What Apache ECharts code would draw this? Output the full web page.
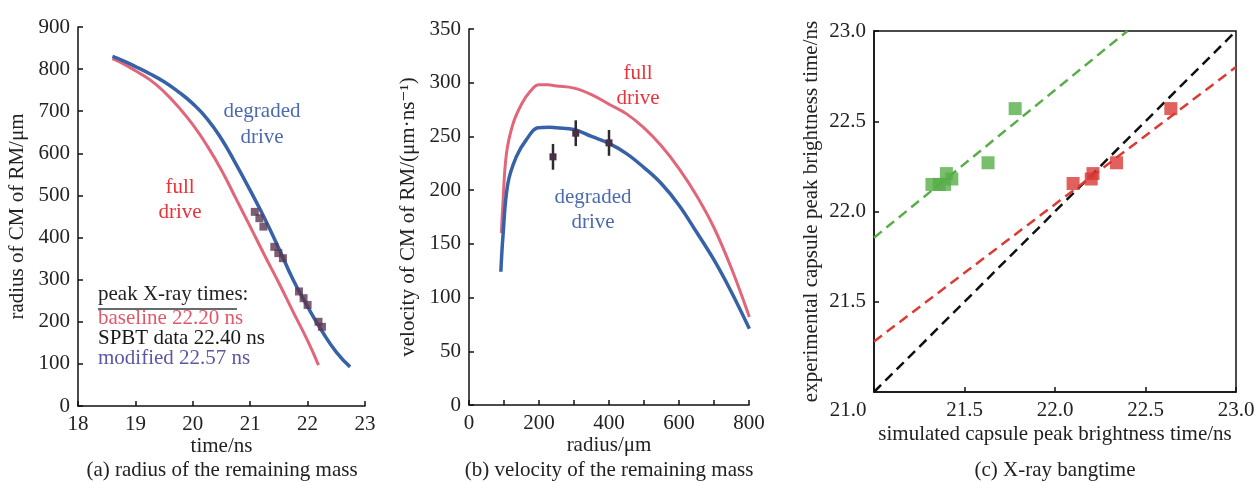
<!DOCTYPE html>
<html><head><meta charset="utf-8">
<script src="https://cdn.jsdelivr.net/npm/echarts@6/dist/echarts.min.js"></script>
<style>html,body{margin:0;padding:0;background:#fff}#c{width:1255px;height:482px}</style>
</head><body><div id="c"></div>
<script>
// ---- Panel (a): radius of remaining mass vs time ----
const aXTicks = [18, 19, 20, 21, 22, 23];
const aFullDrive = [[18.6,825],[18.8,812],[19.0,796],[19.25,775],[19.5,746],[19.75,710],[20.0,668],[20.25,618],[20.5,560],[20.75,493],[21.0,426],[21.25,358],[21.5,292],[21.75,223],[22.0,155],[22.19,97]];
const aDegradedDrive = [[18.6,830],[18.8,819],[19.0,806],[19.25,789],[19.5,770],[19.75,746],[20.0,718],[20.25,682],[20.5,634],[20.75,575],[21.0,512],[21.25,446],[21.5,374],[21.75,299],[22.0,236],[22.25,178],[22.5,128],[22.74,93]];
const aSPBT = [[21.08,461],[21.16,446],[21.23,426],[21.42,378],[21.49,363],[21.57,351],[21.85,272],[21.93,256],[22.0,240],[22.19,200],[22.25,188]];
const aLegend = ['peak X-ray times:', 'baseline 22.20 ns', 'SPBT data 22.40 ns', 'modified 22.57 ns'];

// ---- Panel (b): velocity vs radius ----
const bFullDrive = [[92.5,160],[97,188],[107,234],[126,262],[150,280],[175,292],[200,298],[225,298],[250,297],[300,295],[350,289],[400,280],[450,271],[500,258],[550,241],[600,220],[650,195],[700,165],[750,127],[801,82]];
const bDegradedDrive = [[91,124],[97,157],[111,206],[135,231],[164,247],[197,258],[230,258.6],[250,258],[300,256.5],[350,250],[400,243.5],[450,234],[500,221],[550,206],[600,186],[650,161],[700,135],[750,105],[801,71]];
const bMeasured = [[240,231,12],[305,253,12],[400,244,12]]; // [radius, velocity, error]

// ---- Panel (c): X-ray bangtime ----
const cGreen = [[21.32,22.15],[21.36,22.15],[21.39,22.15],[21.40,22.21],[21.43,22.18],[21.63,22.27],[21.78,22.57]];
const cRed = [[22.10,22.155],[22.20,22.18],[22.21,22.21],[22.34,22.27],[22.64,22.57]];
const cIdentity = [[21,21],[23,23]];
const cRedFit = [[21,21.28],[23,22.80]];
const cGreenFit = [[21,21.855],[22.4,23.0]];

const FONT = '"Liberation Serif","DejaVu Serif",serif';
const FS = 21;
const BLUE_LINE = '#3762a8', RED_LINE = '#e2667a';

function axisBase(extra) {
  return Object.assign({
    type: 'value',
    axisLine: { show: true, onZero: false, lineStyle: { color: '#111', width: 1.5 } },
    axisTick: { show: true, inside: true, length: 5, lineStyle: { color: '#111', width: 1.5 } },
    axisLabel: { color: '#222', fontSize: FS, fontFamily: FONT, margin: 8, showMinLabel: true, showMaxLabel: true },
    splitLine: { show: false },
    nameLocation: 'middle',
    nameTextStyle: { color: '#222', fontSize: FS, fontFamily: FONT },
    nameMoveOverlap: false
  }, extra);
}

const chart = echarts.init(document.getElementById('c'), null, { renderer: 'canvas' });
const txt = (s, x, y, color, extra) => ({ type: 'text', x: x, y: y, style: Object.assign({ text: s, fill: color, font: FS + 'px ' + FONT }, extra || {}) });

const option = {
  backgroundColor: '#fff',
  animation: false,
  grid: [
    { left: 78, top: 27, width: 287, height: 379, outerBoundsMode: 'none' },
    { left: 469, top: 29, width: 280, height: 376, outerBoundsMode: 'none' },
    { left: 874, top: 31, width: 362, height: 361, outerBoundsMode: 'none', show: true, borderColor: '#111', borderWidth: 1.5, backgroundColor: 'transparent' }
  ],
  xAxis: [
    axisBase({ gridIndex: 0, min: aXTicks[0], max: aXTicks[aXTicks.length - 1], interval: 1, name: 'time/ns', nameGap: 30 }),
    axisBase({ gridIndex: 1, min: 0, max: 800, interval: 100, name: 'radius/μm', nameGap: 30,
      axisLabel: { color: '#222', fontSize: FS, fontFamily: FONT, margin: 8, formatter: v => (v % 200 === 0 ? String(v) : '') } }),
    axisBase({ gridIndex: 2, min: 21, max: 23, interval: 0.5, name: 'simulated capsule peak brightness time/ns', nameGap: 32,
      axisLabel: { color: '#222', fontSize: FS, fontFamily: FONT, margin: 8,
        formatter: v => (v === 21 ? '{s|21.0}' : v.toFixed(1)),
        rich: { s: { fontSize: FS, fontFamily: FONT, color: '#222', padding: [0, 52, 0, 0] } } } })
  ],
  yAxis: [
    axisBase({ gridIndex: 0, min: 0, max: 900, interval: 100, name: 'radius of CM of RM/μm', nameGap: 50 }),
    axisBase({ gridIndex: 1, min: 0, max: 350, interval: 50, name: 'velocity of CM of RM/(μm·ns⁻¹)', nameGap: 50 }),
    axisBase({ gridIndex: 2, min: 21, max: 23, interval: 0.5, name: 'experimental capsule peak brightness time/ns', nameGap: 52,
      axisLabel: { color: '#222', fontSize: FS, fontFamily: FONT, margin: 8, showMinLabel: false, formatter: v => v.toFixed(1) } })
  ],
  series: [
    // (a)
    { type: 'line', xAxisIndex: 0, yAxisIndex: 0, data: aFullDrive, smooth: 0.5, symbol: 'none',
      lineStyle: { color: RED_LINE, width: 3 }, z: 2 },
    { type: 'line', xAxisIndex: 0, yAxisIndex: 0, data: aDegradedDrive, smooth: 0.5, symbol: 'none',
      lineStyle: { color: BLUE_LINE, width: 3.5 }, z: 2 },
    { type: 'scatter', xAxisIndex: 0, yAxisIndex: 0, data: aSPBT, symbol: 'rect', symbolSize: 8,
      itemStyle: { color: '#5b3752' }, z: 3 },
    // (b)
    { type: 'line', xAxisIndex: 1, yAxisIndex: 1, data: bFullDrive, smooth: 0.4, symbol: 'none',
      lineStyle: { color: RED_LINE, width: 3 }, z: 2 },
    { type: 'line', xAxisIndex: 1, yAxisIndex: 1, data: bDegradedDrive, smooth: 0.4, symbol: 'none',
      lineStyle: { color: BLUE_LINE, width: 3.5 }, z: 2 },
    { type: 'custom', xAxisIndex: 1, yAxisIndex: 1, data: bMeasured, encode: { x: 0, y: 1 }, z: 3,
      renderItem: (params, api) => {
        const x = api.value(0), y = api.value(1), e = api.value(2);
        const t = api.coord([x, y + e]), b = api.coord([x, y - e]), c = api.coord([x, y]);
        return { type: 'group', children: [
          { type: 'line', shape: { x1: t[0], y1: t[1], x2: b[0], y2: b[1] }, style: { stroke: '#2e2a2e', lineWidth: 2.5 } },
          { type: 'rect', shape: { x: c[0] - 3.5, y: c[1] - 3.5, width: 7, height: 7 }, style: { fill: '#4a3044' } }
        ] };
      } },
    // (c)
    { type: 'line', xAxisIndex: 2, yAxisIndex: 2, data: cIdentity, symbol: 'none',
      lineStyle: { color: '#111', width: 2.5, type: [10, 6] }, z: 2 },
    { type: 'line', xAxisIndex: 2, yAxisIndex: 2, data: cRedFit, symbol: 'none',
      lineStyle: { color: '#dc3b35', width: 2.5, type: [10, 6] }, z: 2 },
    { type: 'line', xAxisIndex: 2, yAxisIndex: 2, data: cGreenFit, symbol: 'none',
      lineStyle: { color: '#5aae4a', width: 2.5, type: [10, 6] }, z: 2 },
    { type: 'scatter', xAxisIndex: 2, yAxisIndex: 2, data: cGreen, symbol: 'rect', symbolSize: 13,
      itemStyle: { color: '#58ae48' }, z: 3 },
    { type: 'scatter', xAxisIndex: 2, yAxisIndex: 2, data: cRed, symbol: 'rect', symbolSize: 13,
      itemStyle: { color: '#d83a34' }, z: 3 }
  ],
  graphic: [
    // annotations panel (a)
    txt('degraded\ndrive', 262, 98, '#4b6aae', { textAlign: 'center', lineHeight: 26 }),
    txt('full\ndrive', 180, 175, '#e8333b', { textAlign: 'center', lineHeight: 25 }),
    txt(aLegend[0], 98, 284, '#222'),
    { type: 'line', shape: { x1: 98, y1: 309, x2: 237, y2: 309 }, style: { stroke: '#6a6a6a', lineWidth: 2 } },
    txt(aLegend[1], 98, 308, '#e0596a'),
    txt(aLegend[2], 98, 328, '#1a1a1a'),
    txt(aLegend[3], 98, 348, '#5a58a2'),
    // annotations panel (b)
    txt('full\ndrive', 638, 61, '#e8333b', { textAlign: 'center', lineHeight: 25 }),
    txt('degraded\ndrive', 593, 185, '#4b6aae', { textAlign: 'center', lineHeight: 25 }),
    // captions
    txt('(a) radius of the remaining mass', 222, 470, '#222', { textAlign: 'center', textVerticalAlign: 'middle' }),
    txt('(b) velocity of the remaining mass', 609, 470, '#222', { textAlign: 'center', textVerticalAlign: 'middle' }),
    txt('(c) X-ray bangtime', 1055, 470, '#222', { textAlign: 'center', textVerticalAlign: 'middle' })
  ]
};
chart.setOption(option);
</script>
</body></html>
